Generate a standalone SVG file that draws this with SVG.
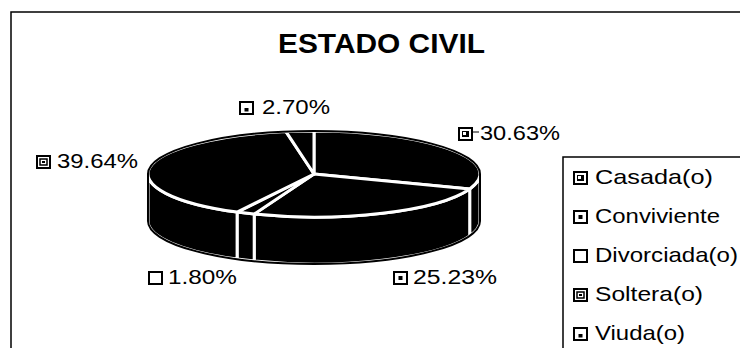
<svg xmlns="http://www.w3.org/2000/svg" width="740" height="348" viewBox="0 0 740 348">
<style>
  .t{font-family:"Liberation Sans",Arial,sans-serif;fill:#000}
  .lbl{font-size:20px}
  .leg{font-size:21px}
  .ttl{font-size:28px;font-weight:bold}
  .sl{fill:#000;stroke:#fff;stroke-width:3;stroke-linejoin:round}
  .wh{fill:#fff;stroke:#000;stroke-width:1.5}
  .box{fill:#fff;stroke:#000;stroke-width:2}
  .frame{fill:none;stroke:#000;stroke-width:1.5}
</style>
<defs>
  <g id="k-casada"><rect class="box" x="1" y="1" width="13" height="12"/><rect x="4" y="4" width="7" height="6" fill="#000"/><rect x="5" y="5" width="3" height="3" fill="#fff"/></g>
  <g id="k-conviviente"><rect class="box" x="1" y="1" width="13" height="12"/><rect x="5.5" y="5" width="4" height="4" fill="#000"/></g>
  <g id="k-divorciada"><rect class="box" x="1" y="1" width="13" height="12"/></g>
  <g id="k-soltera"><rect class="box" x="1" y="1" width="13" height="12"/><rect x="4" y="4" width="7" height="6" fill="none" stroke="#000" stroke-width="1.5"/><rect x="6" y="6" width="3" height="2" fill="#000"/></g>
  <g id="k-viuda"><rect class="box" x="1" y="1" width="13" height="12"/><rect x="5.5" y="7" width="4" height="3.5" fill="#000"/></g>
</defs>

<rect class="frame" x="11" y="12" width="800" height="400"/>

<text id="title" class="t ttl" x="278" y="53" textLength="207" lengthAdjust="spacingAndGlyphs">ESTADO CIVIL</text>

<g id="pie">
  <g id="sides">
    <path class="sl" d="M480,174 A166,43 0 0 1 469.7,188.9 L469.7,235.9 A166,43 0 0 0 480,221 Z"/>
    <path class="sl" d="M469.7,188.9 A166,43 0 0 1 254.2,214.1 L254.2,261.1 A166,43 0 0 0 469.7,235.9 Z"/>
    <path class="sl" d="M254.2,214.1 A166,43 0 0 1 237.1,212.1 L237.1,259.1 A166,43 0 0 0 254.2,261.1 Z"/>
    <path class="sl" d="M237.1,212.1 A166,43 0 0 1 148,174 L148,221 A166,43 0 0 0 237.1,259.1 Z"/>
  </g>
  <g id="slice-casada"><path class="sl" d="M314,174 L314,131 A166,43 0 0 1 469.7,188.9 Z"/></g>
  <g id="slice-conviviente"><path class="sl" d="M314,174 L469.7,188.9 A166,43 0 0 1 254.2,214.1 Z"/></g>
  <g id="slice-divorciada"><path class="sl" d="M314,174 L254.2,214.1 A166,43 0 0 1 237.1,212.1 Z"/></g>
  <g id="slice-soltera"><path class="sl" d="M314,174 L237.1,212.1 A166,43 0 0 1 286,131.6 Z"/></g>
  <g id="slice-viuda"><path class="sl" d="M314,174 L286,131.6 A166,43 0 0 1 314,131 Z"/></g>
  <path d="M148,174 A166,43 0 0 1 480,174 L480,221 A166,43 0 0 1 148,221 Z" fill="none" stroke="#000" stroke-width="2"/>
</g>

<g id="labels">
  <g id="lbl-viuda"><use href="#k-viuda" x="239" y="101"/><text class="t lbl" x="262" y="114" textLength="68" lengthAdjust="spacingAndGlyphs">2.70%</text></g>
  <g id="lbl-soltera"><use href="#k-soltera" x="36" y="155"/><text class="t lbl" x="57" y="168" textLength="81" lengthAdjust="spacingAndGlyphs">39.64%</text></g>
  <g id="lbl-casada"><use href="#k-casada" x="458" y="127"/><text class="t lbl" x="480" y="140" textLength="80" lengthAdjust="spacingAndGlyphs">30.63%</text></g>
  <g id="lbl-divorciada"><use href="#k-divorciada" x="148" y="271"/><text class="t lbl" x="168" y="284" textLength="69" lengthAdjust="spacingAndGlyphs">1.80%</text></g>
  <g id="lbl-conviviente"><use href="#k-conviviente" x="393" y="271"/><text class="t lbl" x="413" y="284" textLength="84" lengthAdjust="spacingAndGlyphs">25.23%</text></g>
</g>

<g id="connectors">
  <line x1="472" y1="132" x2="479" y2="132" stroke="#000" stroke-width="1"/>
</g>

<g id="legend">
  <rect class="frame" x="563" y="157" width="200" height="220"/>
  <g id="leg-casada"><use href="#k-casada" x="573" y="171"/><text class="t leg" x="595" y="184" textLength="118" lengthAdjust="spacingAndGlyphs">Casada(o)</text></g>
  <g id="leg-conviviente"><use href="#k-conviviente" x="573" y="210"/><text class="t leg" x="595" y="223" textLength="125" lengthAdjust="spacingAndGlyphs">Conviviente</text></g>
  <g id="leg-divorciada"><use href="#k-divorciada" x="573" y="249"/><text class="t leg" x="595" y="262" textLength="143" lengthAdjust="spacingAndGlyphs">Divorciada(o)</text></g>
  <g id="leg-soltera"><use href="#k-soltera" x="573" y="288"/><text class="t leg" x="595" y="301" textLength="108" lengthAdjust="spacingAndGlyphs">Soltera(o)</text></g>
  <g id="leg-viuda"><use href="#k-viuda" x="573" y="327"/><text class="t leg" x="595" y="340" textLength="90" lengthAdjust="spacingAndGlyphs">Viuda(o)</text></g>
</g>
</svg>
